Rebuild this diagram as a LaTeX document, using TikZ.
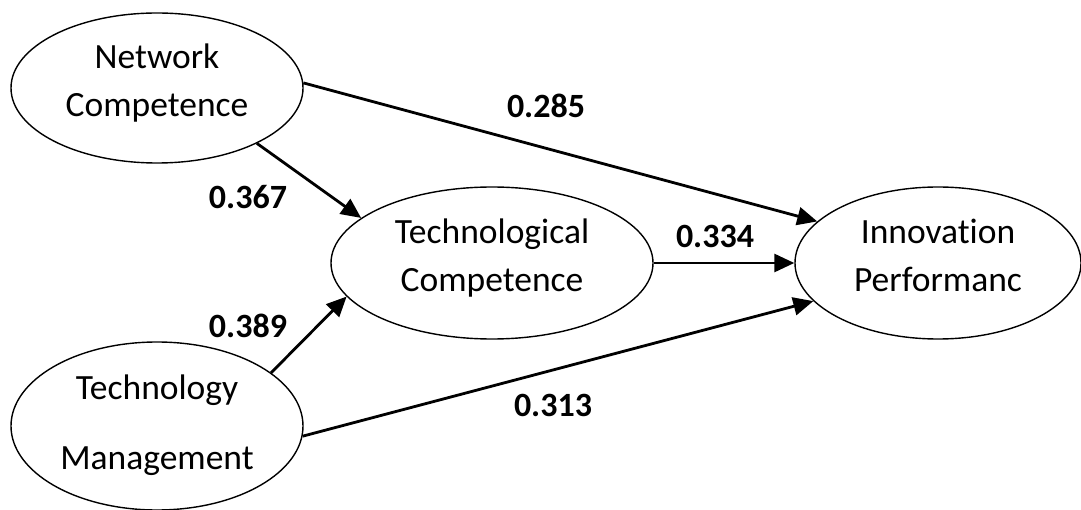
\documentclass[tikz,border=0pt]{standalone}
\usepackage{fontspec}
\setmainfont{Carlito}[Ligatures=CommonOff]
\usetikzlibrary{shapes.geometric,arrows.meta}
\begin{document}
\begin{tikzpicture}[x=1pt,y=-1pt,
  construct/.style={ellipse,draw,line width=1.4pt,inner sep=0pt},
  name text/.style={align=center,inner sep=0pt,font=\fontsize{35.5}{48}\selectfont},
  link/.style={line width=2.8pt,-{Triangle[length=20pt,width=18pt]}},
  coef/.style={font=\fontsize{34}{40}\selectfont\bfseries,inner sep=0pt}]
\useasboundingbox (0,0) rectangle (1081,510);

% latent constructs
\node[construct,minimum width=292pt,minimum height=150pt] (nc) at (157,88) {};
\node[construct,minimum width=322pt,minimum height=152pt] (tc) at (492,263) {};
\node[construct,minimum width=286pt,minimum height=152pt] (ip) at (938,263) {};
\node[construct,minimum width=292pt,minimum height=168pt] (tm) at (157,426) {};

% construct names
\node[name text,yshift=5pt] (nct) at (nc.center) {Network\\Competence};
\node[name text,yshift=5pt] (tct) at (tc.center) {Technological\\Competence};
\node[name text,yshift=8pt] (ipt) at (ip.center) {Innovation\\Performanc};
\node[name text,yshift=1pt] (tmt) at (tm.center) {Technology\\[22pt]Management};

% structural paths
\draw[link] (nc.2) -- (ip.161);
\draw[link] (nc.-29) -- (tc.161);
\draw[link] (tm.25) -- (tc.-167);
\draw[link] (tc.east) -- (ip.west);
\draw[link] (tm.-4) -- (ip.-163);

% path coefficients
\node[coef] (c285) at (546,106) {0.285};
\node[coef] (c367) at (248,197) {0.367};
\node[coef] (c334) at (715,236) {0.334};
\node[coef] (c389) at (248,326) {0.389};
\node[coef] (c313) at (553,405) {0.313};
\end{tikzpicture}
\end{document}
